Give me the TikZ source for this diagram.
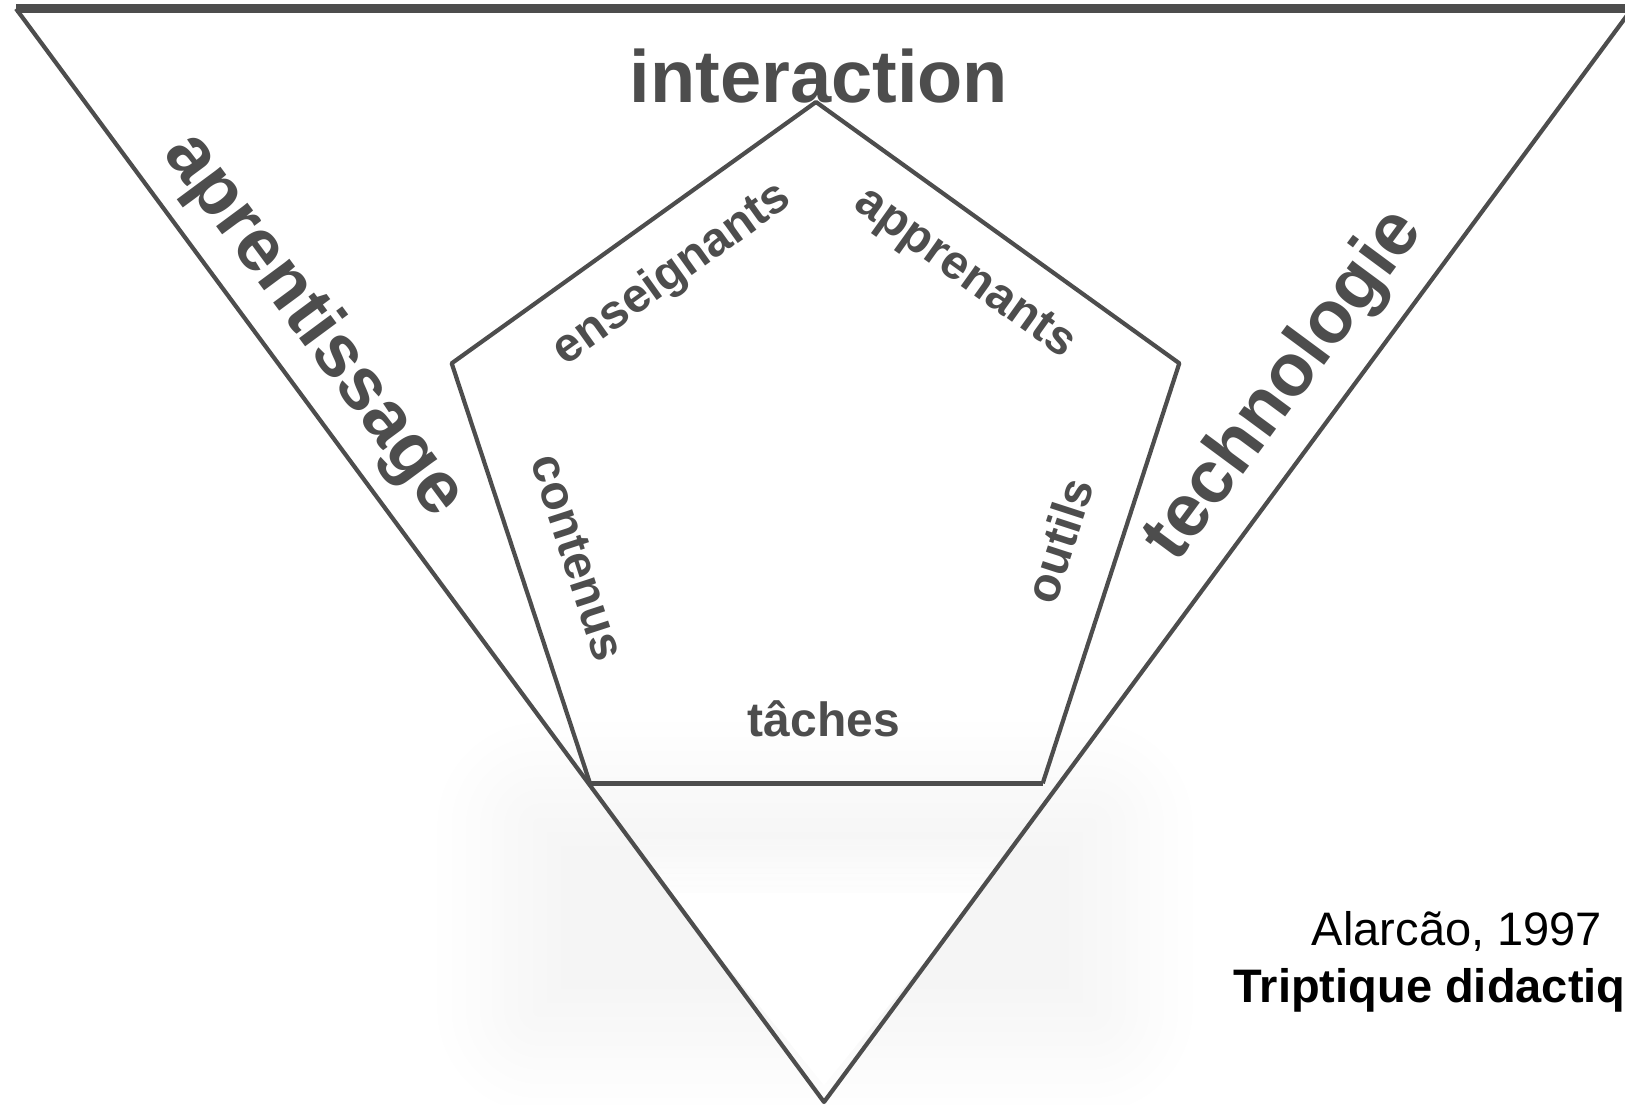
\documentclass[tikz,border=0pt]{standalone}
\usepackage{fontspec}
\setmainfont{Liberation Sans}
\usepackage{tikz}
\usetikzlibrary{shadows.blur, fadings}
\definecolor{ink}{HTML}{4D4D4D}
\tikzset{
rim/.style={draw=ink, line width=4.2pt, line join=round},
thickrim/.style={rim, line width=#1},
bigword/.style={%
    inner sep=0pt,
    text=ink,
    font=\fontsize{74}{80}\selectfont\bfseries
},
smallword/.style={%
    bigword,
    font=\fontsize{48}{54}\selectfont\bfseries
},
cite/.style={inner sep=0pt, text=black, font=\fontsize{47}{56}\selectfont},
glow/.style={blur shadow={shadow xshift=0pt, shadow yshift=0pt,
    shadow blur radius=70pt, shadow blur extra rounding=40pt,
    shadow blur steps=30, shadow opacity=4}},
}

\begin{document}
\begin{tikzpicture}[x=1pt, y=-1pt]
	\useasboundingbox (0,0) rectangle (1625,1104);

	\coordinate (tl) at (16,8.7);
	\coordinate (tr) at (1632,8.7);
	\coordinate (bot) at (824,1102);
	\coordinate (ptop) at (816,102);
	\coordinate (pul) at (451.7,363.3);
	\coordinate (pur) at (1179.3,363.3);
	\coordinate (pbl) at (590,783.3);
	\coordinate (pbr) at (1042.7,783.3);

	% soft shade under the pentagon, light inside the lower tip
	\path[glow] (500,785) rectangle (1130,1050);
	\fill[white, path fading=north] (625,835) -- (1023,835) -- (979,895) -- (669,895) -- cycle;
	\fill[white] (669,895) -- (979,895) -- (824,1085) -- cycle;

	\draw[rim] (tl) -- (bot) -- (tr);
	\draw[thickrim=8.5pt] (tl) -- (tr);
	\draw[rim] (pbl) -- (pul) -- (ptop) -- (pur) -- (pbr);
	\draw[thickrim=5.5pt] (pbl) -- (pbr);

	\node[bigword, anchor=base] (interaction) at (819,102) {interaction};
	\node[bigword, rotate=-53.5] (aprentissage) at (313.5,325.4) {aprentissage};
	\node[bigword, rotate=53.5] (technologie) at (1285,386) {technologie};
	\node[smallword, rotate=35.6] (enseignants) at (672.6,274.6) {enseignants};
	\node[smallword, rotate=-35.6] (apprenants) at (963.8,274.6) {apprenants};
	\node[smallword, rotate=-72] (contenus) at (577.8,557.6) {contenus};
	\node[smallword, rotate=72] (outils) at (1058.6,540.5) {outils};
	\node[smallword, anchor=base] (taches) at (824,736) {tâches};

	\node[cite, anchor=base] (year) at (1457,945) {Alarcão, 1997};
	\node[cite, anchor=base, font=\fontsize{47}{56}\selectfont\bfseries] (title) at (1457,1002) {Triptique didactique};
\end{tikzpicture}
\end{document}
